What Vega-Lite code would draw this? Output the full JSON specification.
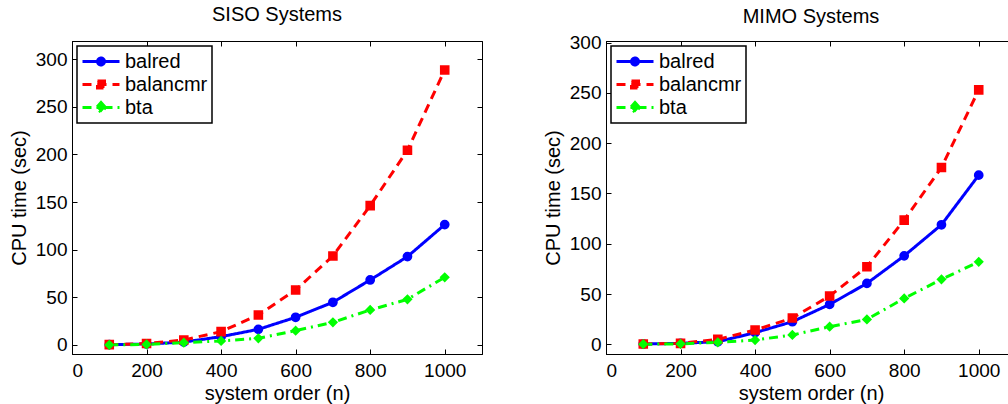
{
  "$schema": "https://vega.github.io/schema/vega-lite/v6.json",
  "padding": {"left": 8, "top": 4, "right": 0, "bottom": 0},
  "config": {
    "font": "Liberation Sans",
    "view": {"stroke": "black", "strokeWidth": 1},
    "axis": {
      "grid": false,
      "domainColor": "black",
      "tickColor": "black",
      "tickWidth": 1,
      "labelColor": "black",
      "labelFontSize": 19,
      "titleFontSize": 20,
      "titleFontWeight": "normal",
      "titleColor": "black",
      "tickSize": -5,
      "labelPadding": 10,
      "format": "d"
    },
    "title": {"fontSize": 20, "fontWeight": "normal", "color": "black", "frame": "group", "baseline": "alphabetic"},
    "legend": {
      "orient": "top-left",
      "offset": 5,
      "strokeColor": "black",
      "strokeWidth": 1.5,
      "fillColor": "white",
      "padding": 4,
      "cornerRadius": 0,
      "labelFontSize": 20,
      "labelColor": "black",
      "labelOffset": 21,
      "symbolSize": 400,
      "symbolStrokeWidth": 3,
      "rowPadding": 1
    }
  },
  "data": {
    "values": [
      {"panel": "SISO", "series": "balred", "n": 100, "t": 0.3},
      {"panel": "SISO", "series": "balred", "n": 200, "t": 1.0},
      {"panel": "SISO", "series": "balred", "n": 300, "t": 3.0},
      {"panel": "SISO", "series": "balred", "n": 400, "t": 8.7},
      {"panel": "SISO", "series": "balred", "n": 500, "t": 16.4},
      {"panel": "SISO", "series": "balred", "n": 600, "t": 29.0},
      {"panel": "SISO", "series": "balred", "n": 700, "t": 44.8},
      {"panel": "SISO", "series": "balred", "n": 800, "t": 68.2},
      {"panel": "SISO", "series": "balred", "n": 900, "t": 92.7},
      {"panel": "SISO", "series": "balred", "n": 1000, "t": 126.3},
      {"panel": "SISO", "series": "balancmr", "n": 100, "t": 0.3},
      {"panel": "SISO", "series": "balancmr", "n": 200, "t": 1.5},
      {"panel": "SISO", "series": "balancmr", "n": 300, "t": 5.2},
      {"panel": "SISO", "series": "balancmr", "n": 400, "t": 14.0},
      {"panel": "SISO", "series": "balancmr", "n": 500, "t": 31.5},
      {"panel": "SISO", "series": "balancmr", "n": 600, "t": 57.7},
      {"panel": "SISO", "series": "balancmr", "n": 700, "t": 93.4},
      {"panel": "SISO", "series": "balancmr", "n": 800, "t": 146.2},
      {"panel": "SISO", "series": "balancmr", "n": 900, "t": 204.3},
      {"panel": "SISO", "series": "balancmr", "n": 1000, "t": 288.6},
      {"panel": "SISO", "series": "bta", "n": 100, "t": 0.1},
      {"panel": "SISO", "series": "bta", "n": 200, "t": 0.5},
      {"panel": "SISO", "series": "bta", "n": 300, "t": 2.4},
      {"panel": "SISO", "series": "bta", "n": 400, "t": 4.2},
      {"panel": "SISO", "series": "bta", "n": 500, "t": 7.0},
      {"panel": "SISO", "series": "bta", "n": 600, "t": 15.0},
      {"panel": "SISO", "series": "bta", "n": 700, "t": 23.8},
      {"panel": "SISO", "series": "bta", "n": 800, "t": 36.7},
      {"panel": "SISO", "series": "bta", "n": 900, "t": 47.9},
      {"panel": "SISO", "series": "bta", "n": 1000, "t": 71.0},
      {"panel": "MIMO", "series": "balred", "n": 100, "t": 0.3},
      {"panel": "MIMO", "series": "balred", "n": 200, "t": 1.0},
      {"panel": "MIMO", "series": "balred", "n": 300, "t": 2.6},
      {"panel": "MIMO", "series": "balred", "n": 400, "t": 11.6},
      {"panel": "MIMO", "series": "balred", "n": 500, "t": 22.5},
      {"panel": "MIMO", "series": "balred", "n": 600, "t": 39.7},
      {"panel": "MIMO", "series": "balred", "n": 700, "t": 60.6},
      {"panel": "MIMO", "series": "balred", "n": 800, "t": 88.0},
      {"panel": "MIMO", "series": "balred", "n": 900, "t": 118.9},
      {"panel": "MIMO", "series": "balred", "n": 1000, "t": 168.2},
      {"panel": "MIMO", "series": "balancmr", "n": 100, "t": 0.3},
      {"panel": "MIMO", "series": "balancmr", "n": 200, "t": 1.0},
      {"panel": "MIMO", "series": "balancmr", "n": 300, "t": 5.0},
      {"panel": "MIMO", "series": "balancmr", "n": 400, "t": 14.2},
      {"panel": "MIMO", "series": "balancmr", "n": 500, "t": 26.2},
      {"panel": "MIMO", "series": "balancmr", "n": 600, "t": 48.0},
      {"panel": "MIMO", "series": "balancmr", "n": 700, "t": 77.2},
      {"panel": "MIMO", "series": "balancmr", "n": 800, "t": 123.5},
      {"panel": "MIMO", "series": "balancmr", "n": 900, "t": 175.8},
      {"panel": "MIMO", "series": "balancmr", "n": 1000, "t": 253.0},
      {"panel": "MIMO", "series": "bta", "n": 100, "t": 0.1},
      {"panel": "MIMO", "series": "bta", "n": 200, "t": 0.5},
      {"panel": "MIMO", "series": "bta", "n": 300, "t": 2.0},
      {"panel": "MIMO", "series": "bta", "n": 400, "t": 4.3},
      {"panel": "MIMO", "series": "bta", "n": 500, "t": 9.3},
      {"panel": "MIMO", "series": "bta", "n": 600, "t": 17.5},
      {"panel": "MIMO", "series": "bta", "n": 700, "t": 24.8},
      {"panel": "MIMO", "series": "bta", "n": 800, "t": 45.7},
      {"panel": "MIMO", "series": "bta", "n": 900, "t": 64.6},
      {"panel": "MIMO", "series": "bta", "n": 1000, "t": 82.0}
    ]
  },
  "spacing": 59,
  "resolve": {"legend": {"color": "independent", "strokeDash": "independent"}},
  "hconcat": [
    {
      "title": {"text": "SISO Systems", "offset": 16},
      "width": 410,
      "height": 313,
      "transform": [{"filter": "datum.panel === 'SISO'"}],
      "resolve": {"axis": {"x": "independent", "y": "independent"}},
      "layer": [
        {
          "mark": {"type": "line", "strokeWidth": 3},
          "encoding": {
            "x": {"field": "n", "type": "quantitative", "scale": {"domain": [0, 1100], "nice": false, "zero": false}, "axis": {"values": [0, 200, 400, 600, 800, 1000], "title": "system order (n)", "labelPadding": 12, "titlePadding": 3}},
            "y": {"field": "t", "type": "quantitative", "scale": {"domain": [-9.5, 319], "nice": false, "zero": false}, "axis": {"values": [0, 50, 100, 150, 200, 250, 300], "title": "CPU time (sec)", "titlePadding": 6}},
            "color": {"field": "series", "type": "nominal", "sort": ["balred", "balancmr", "bta"], "scale": {"domain": ["balred", "balancmr", "bta"], "range": ["#0000ff", "#ff0000", "#00ff00"]}, "legend": {"title": null, "encode": {"symbols": {"update": {
              "shape": {"signal": "datum.value === 'balred' ? 'M-1,0L2.7,0M0.5,0A0.35,0.35,0,1,1,1.2,0A0.35,0.35,0,1,1,0.5,0Z' : datum.value === 'balancmr' ? 'M-1,0L2.7,0M0.5,-0.35L1.2,-0.35L1.2,0.35L0.5,0.35Z' : 'M-1,0L2.7,0M0.85,-0.5L1.3,0L0.85,0.5L0.4,0Z'"},
              "fill": {"signal": "datum.value === 'balred' ? '#0000ff' : datum.value === 'balancmr' ? '#ff0000' : '#00ff00'"},
              "fillOpacity": {"value": 1}}}}}},
            "strokeDash": {"field": "series", "type": "nominal", "sort": ["balred", "balancmr", "bta"], "scale": {"domain": ["balred", "balancmr", "bta"], "range": [[1, 0], [9, 6], [9, 5, 2, 5]]}, "legend": {"title": null}}
          }
        },
        {
          "mark": {"type": "point", "filled": true, "strokeWidth": 2, "opacity": 1},
          "encoding": {
            "x": {"field": "n", "type": "quantitative", "axis": {"orient": "top", "values": [0, 200, 400, 600, 800, 1000], "labels": false, "title": null}},
            "y": {"field": "t", "type": "quantitative", "axis": {"orient": "right", "values": [0, 50, 100, 150, 200, 250, 300], "labels": false, "title": null}},
            "fill": {"field": "series", "type": "nominal", "scale": {"domain": ["balred", "balancmr", "bta"], "range": ["#0000ff", "#ff0000", "#00ff00"]}, "legend": null},
            "stroke": {"field": "series", "type": "nominal", "scale": {"domain": ["balred", "balancmr", "bta"], "range": ["#0000ff", "#ff0000", "#00ff00"]}, "legend": null},
            "shape": {"field": "series", "type": "nominal", "scale": {"domain": ["balred", "balancmr", "bta"], "range": ["circle", "square", "diamond"]}, "legend": null},
            "size": {"field": "series", "type": "nominal", "scale": {"domain": ["balred", "balancmr", "bta"], "range": [60, 55, 105]}, "legend": null}
          }
        }
      ]
    },
    {
      "title": {"text": "MIMO Systems", "offset": 6.5},
      "width": 410,
      "height": 313,
      "transform": [{"filter": "datum.panel === 'MIMO'"}],
      "resolve": {"axis": {"x": "independent", "y": "independent"}},
      "layer": [
        {
          "mark": {"type": "line", "strokeWidth": 3},
          "encoding": {
            "x": {"field": "n", "type": "quantitative", "scale": {"domain": [0, 1100], "nice": false, "zero": false}, "axis": {"values": [0, 200, 400, 600, 800, 1000], "title": "system order (n)", "labelPadding": 12, "titlePadding": 3}},
            "y": {"field": "t", "type": "quantitative", "scale": {"domain": [-9.6, 301.6], "nice": false, "zero": false}, "axis": {"values": [0, 50, 100, 150, 200, 250, 300], "title": "CPU time (sec)", "titlePadding": 6}},
            "color": {"field": "series", "type": "nominal", "sort": ["balred", "balancmr", "bta"], "scale": {"domain": ["balred", "balancmr", "bta"], "range": ["#0000ff", "#ff0000", "#00ff00"]}, "legend": {"title": null, "encode": {"symbols": {"update": {
              "shape": {"signal": "datum.value === 'balred' ? 'M-1,0L2.7,0M0.5,0A0.35,0.35,0,1,1,1.2,0A0.35,0.35,0,1,1,0.5,0Z' : datum.value === 'balancmr' ? 'M-1,0L2.7,0M0.5,-0.35L1.2,-0.35L1.2,0.35L0.5,0.35Z' : 'M-1,0L2.7,0M0.85,-0.5L1.3,0L0.85,0.5L0.4,0Z'"},
              "fill": {"signal": "datum.value === 'balred' ? '#0000ff' : datum.value === 'balancmr' ? '#ff0000' : '#00ff00'"},
              "fillOpacity": {"value": 1}}}}}},
            "strokeDash": {"field": "series", "type": "nominal", "sort": ["balred", "balancmr", "bta"], "scale": {"domain": ["balred", "balancmr", "bta"], "range": [[1, 0], [9, 6], [9, 5, 2, 5]]}, "legend": {"title": null}}
          }
        },
        {
          "mark": {"type": "point", "filled": true, "strokeWidth": 2, "opacity": 1},
          "encoding": {
            "x": {"field": "n", "type": "quantitative", "axis": {"orient": "top", "values": [0, 200, 400, 600, 800, 1000], "labels": false, "title": null}},
            "y": {"field": "t", "type": "quantitative", "axis": {"orient": "right", "values": [0, 50, 100, 150, 200, 250, 300], "labels": false, "title": null}},
            "fill": {"field": "series", "type": "nominal", "scale": {"domain": ["balred", "balancmr", "bta"], "range": ["#0000ff", "#ff0000", "#00ff00"]}, "legend": null},
            "stroke": {"field": "series", "type": "nominal", "scale": {"domain": ["balred", "balancmr", "bta"], "range": ["#0000ff", "#ff0000", "#00ff00"]}, "legend": null},
            "shape": {"field": "series", "type": "nominal", "scale": {"domain": ["balred", "balancmr", "bta"], "range": ["circle", "square", "diamond"]}, "legend": null},
            "size": {"field": "series", "type": "nominal", "scale": {"domain": ["balred", "balancmr", "bta"], "range": [60, 55, 105]}, "legend": null}
          }
        }
      ]
    }
  ]
}
